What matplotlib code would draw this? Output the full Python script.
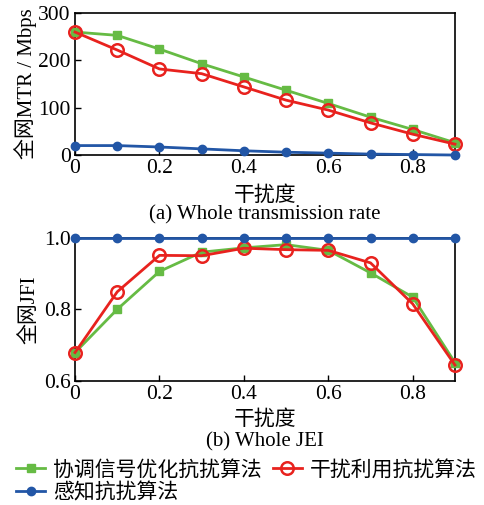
import matplotlib
matplotlib.use('Agg')
import matplotlib.pyplot as plt

plt.rcParams['font.family'] = ['Liberation Serif', 'Noto Sans CJK SC']
plt.rcParams['xtick.direction'] = 'in'
plt.rcParams['ytick.direction'] = 'in'

x = [0, 0.1, 0.2, 0.3, 0.4, 0.5, 0.6, 0.7, 0.8, 0.9]

# (a) whole transmission rate
mtr_coord = [260, 253, 224, 193, 165, 137, 109, 80, 54, 26]
mtr_util = [260, 222, 182, 172, 144, 116, 95, 68, 44, 23]
mtr_sense = [20, 20, 17, 13, 9, 6, 4, 2, 1, 0]

# (b) whole JFI
jfi_coord = [0.679, 0.800, 0.906, 0.960, 0.972, 0.981, 0.965, 0.902, 0.834, 0.651]
jfi_util = [0.679, 0.849, 0.951, 0.950, 0.971, 0.967, 0.965, 0.930, 0.815, 0.644]
jfi_sense = [1.0, 1.0, 1.0, 1.0, 1.0, 1.0, 1.0, 1.0, 1.0, 1.0]

names = ['协调信号优化抗扰算法', '干扰利用抗扰算法', '感知抗扰算法']
green = '#66bb44'
red = '#e8221e'
blue = '#2256a6'

fig = plt.figure(figsize=(4.84, 5.05), dpi=100)
ax1 = fig.add_axes([0.155, 0.693, 0.785, 0.281])
ax2 = fig.add_axes([0.155, 0.246, 0.785, 0.283])


def draw(ax, g, r, b):
    l1, = ax.plot(x, g, color=green, lw=2, marker='s', ms=6, clip_on=False, zorder=3)
    l2, = ax.plot(x, r, color=red, lw=2, marker='o', ms=9, mfc='none', mew=1.8, clip_on=False, zorder=4)
    l3, = ax.plot(x, b, color=blue, lw=2, marker='o', ms=6, clip_on=False, zorder=5)
    ax.set_xlim(0, 0.9)
    ax.set_xticks([0, 0.2, 0.4, 0.6, 0.8])
    ax.set_xticklabels(['0', '0.2', '0.4', '0.6', '0.8'])
    ax.tick_params(labelsize=15.5, length=4, width=1, top=False, right=False, pad=3)
    for s in ax.spines.values():
        s.set_linewidth(1.2)
    return l1, l2, l3


draw(ax1, mtr_coord, mtr_util, mtr_sense)
ax1.set_ylim(0, 300)
ax1.set_yticks([0, 100, 200, 300])
ax1.set_ylabel('全网MTR / Mbps', fontsize=15, labelpad=1)

g, r, b = draw(ax2, jfi_coord, jfi_util, jfi_sense)
ax2.set_ylim(0.6, 1.0)
ax2.set_yticks([0.6, 0.8, 1.0])
ax2.set_yticklabels(['0.6', '0.8', '1.0'])
ax2.set_ylabel('全网JFI', fontsize=15, labelpad=3)

fig.text(0.547, 0.612, '干扰度', ha='center', va='center', fontsize=15)
fig.text(0.547, 0.574, '(a) Whole transmission rate', ha='center', va='center', fontsize=15)
fig.text(0.547, 0.168, '干扰度', ha='center', va='center', fontsize=15)
fig.text(0.547, 0.125, '(b) Whole JEI', ha='center', va='center', fontsize=15)

# column-major fill: green, blue in first column, red in second
fig.legend([g, b, r], [names[0], names[2], names[1]], loc='lower left',
           bbox_to_anchor=(0.033, 0.004), ncol=2, frameon=False, fontsize=15,
           handlelength=1.4, handletextpad=0.4, columnspacing=0.5,
           labelspacing=0.12, borderaxespad=0, borderpad=0)

fig.savefig('out.png', dpi=100)
